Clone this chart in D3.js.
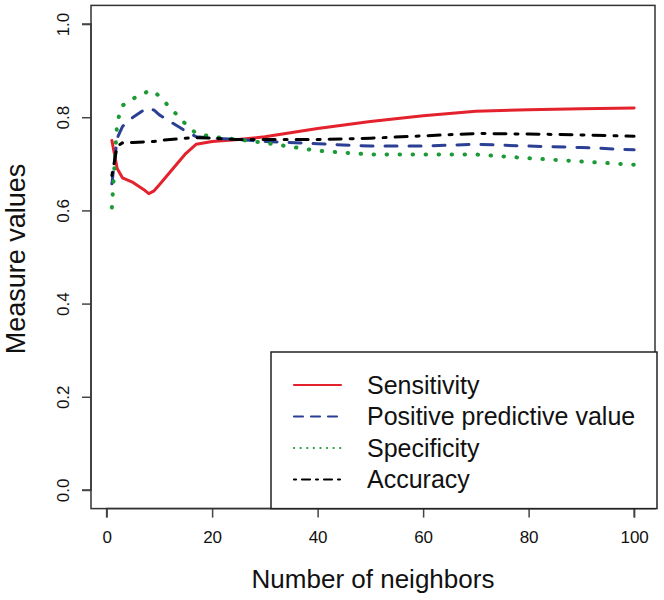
<!DOCTYPE html>
<html>
<head>
<meta charset="utf-8">
<script src="https://cdn.jsdelivr.net/npm/d3@7"></script>
<style>
  html, body { margin: 0; padding: 0; background: #fff; }
  svg { display: block; font-family: "Liberation Sans", Arial, Helvetica, sans-serif; }
</style>
</head>
<body>
<svg id="chart" width="664" height="600"></svg>
<script>
// ---- data ----
const neighbors   = [1, 2, 3, 5, 7, 8, 9, 10, 15, 17, 20, 25, 30, 40, 50, 60, 70, 80, 90, 100];
const sensitivity = [0.750, 0.690, 0.670, 0.660, 0.645, 0.636, 0.642, 0.655, 0.722, 0.742, 0.748, 0.752, 0.758, 0.776, 0.791, 0.803, 0.813, 0.816, 0.818, 0.820];
const ppv         = [0.657, 0.755, 0.780, 0.800, 0.815, 0.820, 0.815, 0.805, 0.770, 0.758, 0.755, 0.752, 0.748, 0.743, 0.738, 0.738, 0.742, 0.738, 0.735, 0.730];
const specificity = [0.606, 0.790, 0.825, 0.840, 0.850, 0.857, 0.855, 0.845, 0.785, 0.765, 0.758, 0.752, 0.745, 0.728, 0.720, 0.720, 0.720, 0.712, 0.705, 0.698];
const accuracy    = [0.675, 0.738, 0.745, 0.746, 0.747, 0.747, 0.748, 0.750, 0.755, 0.756, 0.755, 0.752, 0.752, 0.752, 0.755, 0.760, 0.765, 0.764, 0.762, 0.759];
const seriesNames = ["Sensitivity", "Positive predictive value", "Specificity", "Accuracy"];
const xTicks = [0, 20, 40, 60, 80, 100];
const yTicks = [0.0, 0.2, 0.4, 0.6, 0.8, 1.0];

// ---- styling ----
const styles = [
  { color: "#e3222d", dash: null, width: 3 },
  { color: "#2b3f94", dash: "12,12", width: 3 },
  { color: "#1c9a35", dash: "0.5,12.5", width: 4 },
  { color: "#000000", dash: "3,9,12,9", width: 3 }
];
const legendDash = [null, "9,8", "0.1,6.5", "2,6,8,6"];

const svg = d3.select("#chart");
const L = 91, R = 655, T = 5.4, B = 508.6;
const FONT = "Liberation Sans, Arial, sans-serif";

const x = d3.scaleLinear().domain([1 - 99 * 0.04, 100 + 99 * 0.04]).range([L, R]);
const y = d3.scaleLinear().domain([-0.04, 1.04]).range([B, T]);

svg.append("defs").append("clipPath").attr("id", "clip")
  .append("rect").attr("x", L).attr("y", T).attr("width", R - L).attr("height", B - T);

const allSeries = [sensitivity, ppv, specificity, accuracy];
const line = d3.line().x((d, i) => x(neighbors[i])).y(d => y(d));

const g = svg.append("g").attr("clip-path", "url(#clip)");
allSeries.forEach((s, i) => {
  g.append("path")
    .attr("d", line(s))
    .attr("fill", "none")
    .attr("stroke", styles[i].color)
    .attr("stroke-width", styles[i].width)
    .attr("stroke-linecap", "round")
    .attr("stroke-linejoin", "round")
    .attr("stroke-dasharray", styles[i].dash);
});

// ---- axes ----
const xAxis = d3.axisBottom(x).tickValues(xTicks).tickSize(9).tickPadding(13).tickFormat(d3.format("d"));
const gx = svg.append("g").attr("transform", `translate(0,${B})`).call(xAxis);
gx.select(".domain").attr("d", `M${x(0)},9V0H${x(100)}V9`).attr("stroke", "#444").attr("stroke-width", 1.5).attr("fill", "none");
gx.selectAll(".tick line").attr("stroke", "#444").attr("stroke-width", 1.5);
gx.selectAll(".tick text").attr("font-size", 17).attr("fill", "#111").style("font-family", FONT);

const yAxis = d3.axisLeft(y).tickValues(yTicks).tickSize(9).tickFormat(d3.format(".1f"));
const gy = svg.append("g").attr("transform", `translate(${L},0)`).call(yAxis);
gy.select(".domain").attr("d", `M-9,${y(0)}H0V${y(1)}H-9`).attr("stroke", "#444").attr("stroke-width", 1.5).attr("fill", "none");
gy.selectAll(".tick line").attr("stroke", "#444").attr("stroke-width", 1.5);
gy.selectAll(".tick text")
  .attr("font-size", 17).attr("fill", "#111")
  .attr("text-anchor", "middle")
  .attr("x", null).attr("dy", null)
  .attr("transform", "translate(-22,0) rotate(-90)")
  .attr("y", 0)
  .style("font-family", FONT);

// plot box
svg.append("rect").attr("x", L).attr("y", T).attr("width", R - L).attr("height", B - T)
  .attr("fill", "none").attr("stroke", "#333").attr("stroke-width", 1.5);

// axis titles
svg.append("text").attr("x", (L + R) / 2).attr("y", 588).attr("text-anchor", "middle")
  .attr("font-size", 26).attr("fill", "#111").text("Number of neighbors");
svg.append("text").attr("transform", `translate(25,${(T + B) / 2 + 2}) rotate(-90)`).attr("text-anchor", "middle")
  .attr("font-size", 27).attr("fill", "#111").text("Measure values");

// ---- legend ----
const lg = svg.append("g");
lg.append("rect").attr("x", 271).attr("y", 352).attr("width", 386).attr("height", B - 352)
  .attr("fill", "#fff").attr("stroke", "#222").attr("stroke-width", 1.5);
seriesNames.forEach((name, i) => {
  const yy = 385 + i * 31.5;
  lg.append("line").attr("x1", 294).attr("x2", 341).attr("y1", yy).attr("y2", yy)
    .attr("stroke", styles[i].color).attr("stroke-width", 2.2)
    .attr("stroke-linecap", "round")
    .attr("stroke-dasharray", legendDash[i]);
  lg.append("text").attr("x", 367).attr("y", yy).attr("dy", "0.35em")
    .attr("font-size", 25).attr("fill", "#111").text(name);
});
</script>
</body>
</html>
